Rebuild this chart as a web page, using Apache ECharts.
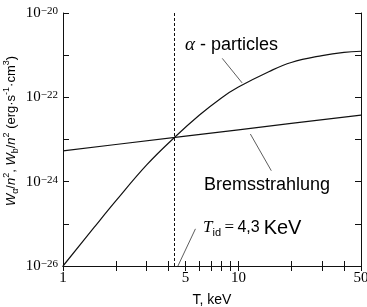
<!DOCTYPE html>
<html><head><meta charset="utf-8">
<script src="https://cdn.jsdelivr.net/npm/echarts@6/dist/echarts.min.js"></script>
<style>html,body{margin:0;padding:0;background:#fff}#c{width:367px;height:307px}</style>
</head><body><div id="c"></div>
<script>
// ---- data ----
const tempAlpha = [1, 1.5, 2, 3, 4.3, 6, 8, 10, 15, 20, 30, 40, 50];
const wAlpha = [1e-26, 8.1e-26, 3.5e-25, 2.5e-24, 1.1e-23, 3.8e-23, 9.7e-23, 1.75e-22, 4.1e-22, 6.7e-22, 9.8e-22, 1.17e-21, 1.24e-21];
const tempBrems = [1, 2, 5, 10, 20, 50];
const wBrems = [5.4e-24, 7.6e-24, 1.2e-23, 1.7e-23, 2.4e-23, 3.8e-23];
const xTickValues = [1, 2, 3, 4, 5, 6, 7, 8, 9, 10, 20, 30, 40, 50];
const xLabelValues = [1, 5, 10, 50];
const yTickValues = [1e-26, 1e-25, 1e-24, 1e-23, 1e-22, 1e-21, 1e-20];
const yLabelValues = [1e-26, 1e-24, 1e-22, 1e-20];
const tIgnition = 4.3;

// annotation leader lines (data space)
const leaderAlpha = [[8.09, 8.4e-22], [10.5, 2.2e-22]];
const leaderBrems = [[11.7, 1.35e-23], [15.4, 1.82e-24]];
const leaderTid = [[5.69, 7.6e-26], [4.52, 1e-26]];

const serif = 'Liberation Serif';
const sans = 'Liberation Sans';
const black = '#111';

const chart = echarts.init(document.getElementById('c'), null, {renderer: 'canvas'});

function pairs(xs, ys) { return xs.map((x, i) => [x, ys[i]]); }
function seg(p) { return [{coord: p[0]}, {coord: p[1]}]; }

const yLabelRich = {
  ten: {fontFamily: serif, fontSize: 15, color: '#000', lineHeight: 15, verticalAlign: 'bottom'},
  ex: {fontFamily: serif, fontSize: 11, color: '#000', lineHeight: 11, verticalAlign: 'top', padding: [0, 0, 8, 0]}
};

function yFmt(v) {
  const e = Math.round(Math.log10(v));
  if (!yLabelValues.some(l => Math.round(Math.log10(l)) === e)) return '';
  return '{ten|10}{ex|\u2212' + (-e) + '}';
}

const axisLine = {show: true, lineStyle: {color: black, width: 1}};

const option = {
  animation: false,
  backgroundColor: '#fff',
  grid: {left: 63, right: 6, top: 13, bottom: 41, containLabel: false, outerBoundsMode: 'none'},
  xAxis: [
    {
      type: 'log', logBase: 10, min: 1, max: 50, position: 'bottom',
      axisLine: axisLine,
      axisTick: {show: true, inside: true, length: 5, customValues: xTickValues, lineStyle: {color: black}},
      axisLabel: {show: true, customValues: xLabelValues, formatter: v => String(Math.round(v)),
        fontFamily: serif, fontSize: 15, color: '#000', margin: 5, showMinLabel: true, showMaxLabel: true},
      splitLine: {show: false}, minorTick: {show: false},
      name: 'T, keV', nameLocation: 'middle', nameGap: 27,
      nameTextStyle: {fontFamily: sans, fontSize: 14, color: '#000'}
    },
    {
      type: 'log', logBase: 10, min: 1, max: 50, position: 'top',
      axisLine: axisLine,
      axisTick: {show: true, inside: true, length: 5, customValues: xTickValues, lineStyle: {color: black}},
      axisLabel: {show: false}, splitLine: {show: false}
    }
  ],
  yAxis: [
    {
      type: 'log', logBase: 10, min: 1e-26, max: 1e-20, position: 'left',
      axisLine: axisLine,
      axisTick: {show: true, inside: true, length: 6, customValues: yTickValues, lineStyle: {color: black}},
      axisLabel: {show: true, customValues: yLabelValues, formatter: yFmt, rich: yLabelRich, margin: 5,
        fontFamily: serif, fontSize: 15, color: '#000', showMinLabel: true, showMaxLabel: true},
      splitLine: {show: false}
    },
    {
      type: 'log', logBase: 10, min: 1e-26, max: 1e-20, position: 'right',
      axisLine: axisLine,
      axisTick: {show: true, inside: true, length: 6, customValues: yTickValues, lineStyle: {color: black}},
      axisLabel: {show: false}, splitLine: {show: false}
    }
  ],
  series: [
    {
      type: 'line', name: 'alpha', data: pairs(tempAlpha, wAlpha), smooth: 0.4,
      showSymbol: false, symbol: 'none', lineStyle: {color: black, width: 1.2}, silent: true,
      markLine: {
        silent: true, symbol: 'none', animation: false, label: {show: false},
        lineStyle: {color: black, width: 1, type: [3, 2]},
        data: [{xAxis: tIgnition}]
      }
    },
    {
      type: 'line', name: 'brems', data: pairs(tempBrems, wBrems),
      showSymbol: false, symbol: 'none', lineStyle: {color: black, width: 1.2}, silent: true,
      markLine: {
        silent: true, symbol: 'none', animation: false, label: {show: false},
        lineStyle: {color: '#333', width: 0.8, type: 'solid'},
        data: [seg(leaderAlpha), seg(leaderBrems), seg(leaderTid)]
      }
    }
  ],
  graphic: [
    {
      type: 'text', x: 11, y: 131, rotation: Math.PI / 2,
      style: {
        text: '{w|W}{sub|α}{n|/}{w|n}{sup|2}{n|, }{w|W}{sub|b}{n|/}{w|n}{sup|2}{n| (erg\u00b7s}{sup|-1}{n|\u00b7cm}{sup|3}{n|)}',
        align: 'center', verticalAlign: 'middle',
        rich: {
          n: {fontFamily: sans, fontSize: 13, fill: '#000', lineHeight: 18, verticalAlign: 'middle'},
          w: {fontFamily: sans, fontStyle: 'italic', fontSize: 13, fill: '#000', lineHeight: 18, verticalAlign: 'middle'},
          sub: {fontFamily: sans, fontSize: 9, fill: '#000', lineHeight: 9, verticalAlign: 'bottom'},
          sup: {fontFamily: sans, fontSize: 9, fill: '#000', lineHeight: 9, verticalAlign: 'top'}
        }
      }
    },
    {
      type: 'text', x: 185, y: 45,
      style: {
        text: '{a|α}{t| - particles}', align: 'left', verticalAlign: 'middle',
        rich: {
          a: {fontFamily: serif, fontStyle: 'italic', fontSize: 19, fill: '#000'},
          t: {fontFamily: sans, fontSize: 18, fill: '#000'}
        }
      }
    },
    {
      type: 'text', x: 204, y: 185,
      style: {text: 'Bremsstrahlung', fontFamily: sans, fontSize: 18, fill: '#000', align: 'left', verticalAlign: 'middle'}
    },
    {
      type: 'text', x: 203, y: 228,
      style: {
        text: '{T|T}{id|id}{eq|\u2009=\u2009}{v|4,3}{k|\u2009KeV}', align: 'left', verticalAlign: 'middle',
        rich: {
          T: {fontFamily: serif, fontStyle: 'italic', fontSize: 17, fill: '#000', lineHeight: 20, verticalAlign: 'middle'},
          id: {fontFamily: sans, fontSize: 11, fill: '#000', lineHeight: 11, verticalAlign: 'bottom'},
          eq: {fontFamily: serif, fontSize: 17, fill: '#000', lineHeight: 20, verticalAlign: 'middle'},
          v: {fontFamily: sans, fontSize: 16, fill: '#000', lineHeight: 20, verticalAlign: 'middle'},
          k: {fontFamily: sans, fontSize: 20, fill: '#000', lineHeight: 20, verticalAlign: 'middle'}
        }
      }
    }
  ]
};
chart.setOption(option);
</script>
</body></html>
